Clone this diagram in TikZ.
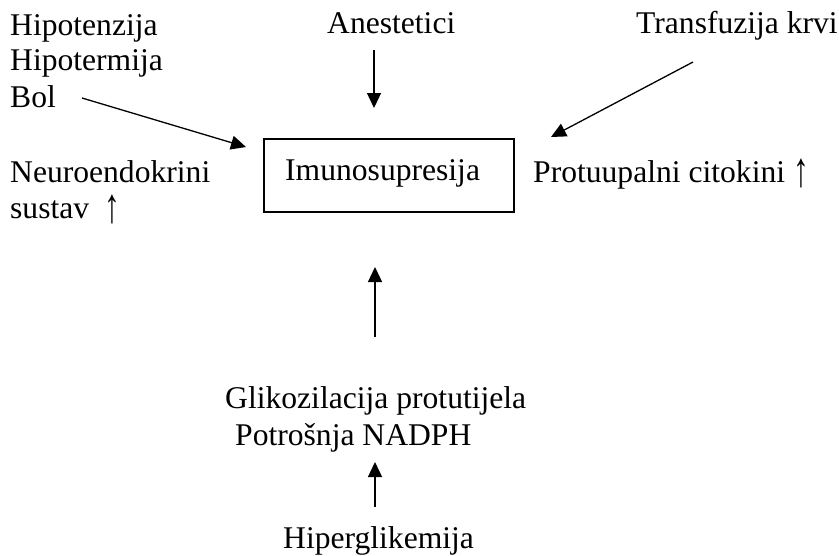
\documentclass[tikz,border=0pt]{standalone}
\usepackage{fontspec}
\setmainfont{Liberation Serif}
\usetikzlibrary{arrows.meta}
\newcommand{\tallup}{\raisebox{-4.5pt}{\scalebox{1}[1.55]{↑}}}
\tikzset{
  txt/.style={inner sep=0pt, anchor=base west, font=\fontsize{31.6}{35.5}\selectfont},
  arr/.style={line width=1.3pt, -{Triangle[length=15pt,width=14pt]}},
  box/.style={draw, line width=1.3pt, minimum width=250pt, minimum height=73pt, inner sep=0pt}
}
\begin{document}
\begin{tikzpicture}[x=1pt,y=-1pt]
\useasboundingbox (0,0) rectangle (839,555);
% texts
\node[txt] (hip1) at (10,35) {Hipotenzija};
\node[txt] (hip2) at (10,70) {Hipotermija};
\node[txt] (bol)  at (10,107) {Bol};
\node[txt] (neu1) at (10,182) {Neuroendokrini};
\node[txt] (neu2) at (10,218) {sustav\ \ \tallup};
\node[txt] (ane)  at (327,33) {Anestetici};
\node[txt] (tra)  at (636,33) {Transfuzija krvi};
\node[txt] (pro)  at (533,182) {Protuupalni citokini \tallup};
\node[box] (imu)  at (389,175.5) {};
\node[txt] (imut) at (285,180) {Imunosupresija};
\node[txt] (gli1) at (225,408) {Glikozilacija protutijela};
\node[txt] (gli2) at (235,445) {Potrošnja NADPH};
\node[txt] (hig)  at (283,548) {Hiperglikemija};
% arrow endpoints
\coordinate (bolS) at (82,98);
\coordinate (bolE) at (246,147);
\coordinate (aneS) at (374,50);
\coordinate (aneE) at (374,108);
\coordinate (traS) at (693,62);
\coordinate (traE) at (551,137);
\coordinate (gliS) at (375,337);
\coordinate (gliE) at (375,267);
\coordinate (higS) at (375,507);
\coordinate (higE) at (375,462);
\draw[arr] (bolS) -- (bolE);
\draw[arr] (aneS) -- (aneE);
\draw[arr] (traS) -- (traE);
\draw[arr] (gliS) -- (gliE);
\draw[arr] (higS) -- (higE);
\end{tikzpicture}
\end{document}
